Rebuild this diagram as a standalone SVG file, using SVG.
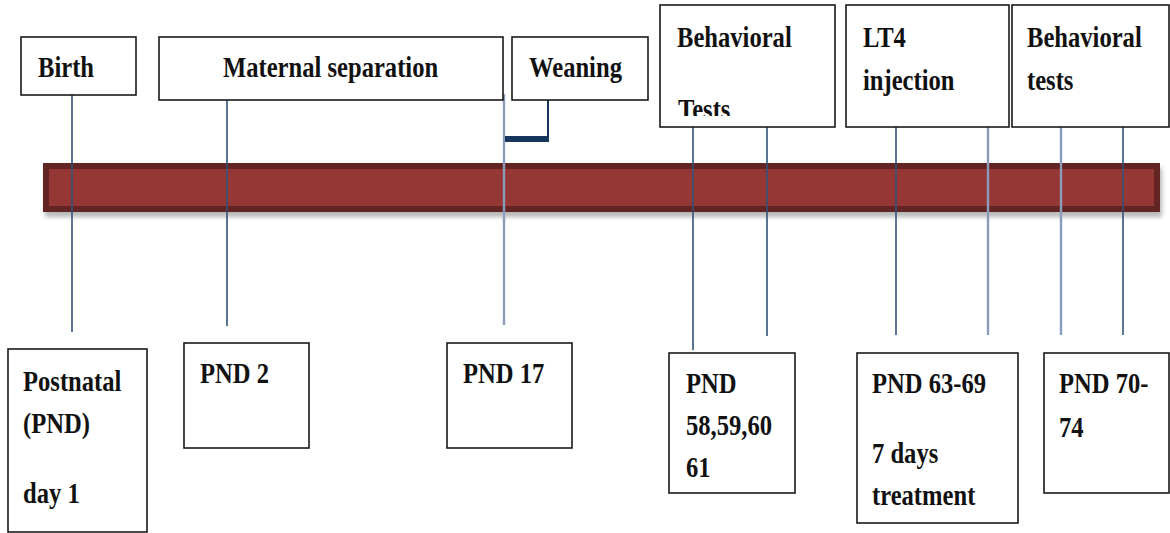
<svg xmlns="http://www.w3.org/2000/svg" width="1170" height="533" viewBox="0 0 1170 533">
<style>
.box{fill:#fff;stroke:#1a1a1a;stroke-width:1.6}
.t{font-family:"Liberation Serif","Times New Roman",serif;font-weight:bold;font-size:30px;fill:#111}
.ln{stroke:#34527a;stroke-width:1.6;fill:none}
.lt{stroke:#8a9cba;stroke-width:2.4;fill:none}
</style>
<defs>
<filter id="sh" x="-5%" y="-50%" width="110%" height="200%"><feGaussianBlur stdDeviation="2"/></filter>
<clipPath id="clipTests"><rect x="660" y="5" width="175" height="111"/></clipPath>
</defs>
<rect width="1170" height="533" fill="#fff"/>
<g id="timeline-bar">
<rect x="45" y="168" width="1117" height="49" fill="#9a9a9a" filter="url(#sh)" opacity="0.7"/>
<rect x="46" y="166" width="1111" height="43" fill="#953735" stroke="#632523" stroke-width="6"/>
</g>
<g id="connectors">
<line class="ln" x1="72" y1="95" x2="72" y2="332"/>
<line class="ln" x1="227" y1="100" x2="227" y2="326"/>
<line class="lt" x1="504" y1="94" x2="504" y2="325"/>
<line x1="548" y1="93" x2="548" y2="142" stroke="#17365d" stroke-width="2"/>
<rect x="505" y="136" width="44" height="6" fill="#17365d"/>
<line class="ln" x1="693" y1="127" x2="693" y2="350"/>
<line class="ln" x1="767" y1="127" x2="767" y2="336"/>
<line class="ln" x1="896" y1="127" x2="896" y2="335"/>
<line class="lt" x1="988" y1="127" x2="988" y2="335"/>
<line class="lt" x1="1061" y1="127" x2="1061" y2="335"/>
<line class="ln" x1="1123" y1="127" x2="1123" y2="335"/>
</g>
<g id="birth">
<rect class="box" x="21" y="37" width="115" height="58"/>
<text class="t" transform="translate(38,77) scale(0.82,1)">Birth</text>
</g>
<g id="maternal-separation">
<rect class="box" x="159" y="37" width="344" height="63"/>
<text class="t" transform="translate(223,77) scale(0.82,1)">Maternal separation</text>
</g>
<g id="weaning">
<rect class="box" x="512" y="37" width="136" height="63"/>
<text class="t" transform="translate(529,77) scale(0.82,1)">Weaning</text>
</g>
<g id="behavioral-tests-1">
<rect class="box" x="660" y="5" width="175" height="122"/>
<text class="t" transform="translate(677,47) scale(0.82,1)">Behavioral</text>
<g clip-path="url(#clipTests)"><text class="t" transform="translate(678,119) scale(0.82,1)">Tests</text></g>
</g>
<g id="lt4-injection">
<rect class="box" x="846" y="5" width="163" height="122"/>
<text class="t" transform="translate(863,47) scale(0.82,1)">LT4</text>
<text class="t" transform="translate(863,90) scale(0.82,1)">injection</text>
</g>
<g id="behavioral-tests-2">
<rect class="box" x="1012" y="5" width="157" height="122"/>
<text class="t" transform="translate(1027,47) scale(0.82,1)">Behavioral</text>
<text class="t" transform="translate(1027,90) scale(0.82,1)">tests</text>
</g>
<g id="pnd1">
<rect class="box" x="8" y="349" width="139" height="183"/>
<text class="t" transform="translate(23,391) scale(0.82,1)">Postnatal</text>
<text class="t" transform="translate(23,433) scale(0.82,1)">(PND)</text>
<text class="t" transform="translate(23,503) scale(0.82,1)">day 1</text>
</g>
<g id="pnd2">
<rect class="box" x="184" y="343" width="125" height="105"/>
<text class="t" transform="translate(200,383) scale(0.82,1)">PND 2</text>
</g>
<g id="pnd17">
<rect class="box" x="447" y="343" width="125" height="105"/>
<text class="t" transform="translate(463,383) scale(0.82,1)">PND 17</text>
</g>
<g id="pnd58-61">
<rect class="box" x="669" y="353" width="126" height="140"/>
<text class="t" transform="translate(686,393) scale(0.82,1)">PND</text>
<text class="t" transform="translate(686,435) scale(0.82,1)">58,59,60</text>
<text class="t" transform="translate(686,477) scale(0.82,1)">61</text>
</g>
<g id="pnd63-69">
<rect class="box" x="857" y="353" width="161" height="170"/>
<text class="t" transform="translate(872,393) scale(0.82,1)">PND 63-69</text>
<text class="t" transform="translate(872,463) scale(0.82,1)">7 days</text>
<text class="t" transform="translate(872,505) scale(0.82,1)">treatment</text>
</g>
<g id="pnd70-74">
<rect class="box" x="1044" y="353" width="125" height="140"/>
<text class="t" transform="translate(1059,393) scale(0.82,1)">PND 70-</text>
<text class="t" transform="translate(1059,437) scale(0.82,1)">74</text>
</g>
</svg>
